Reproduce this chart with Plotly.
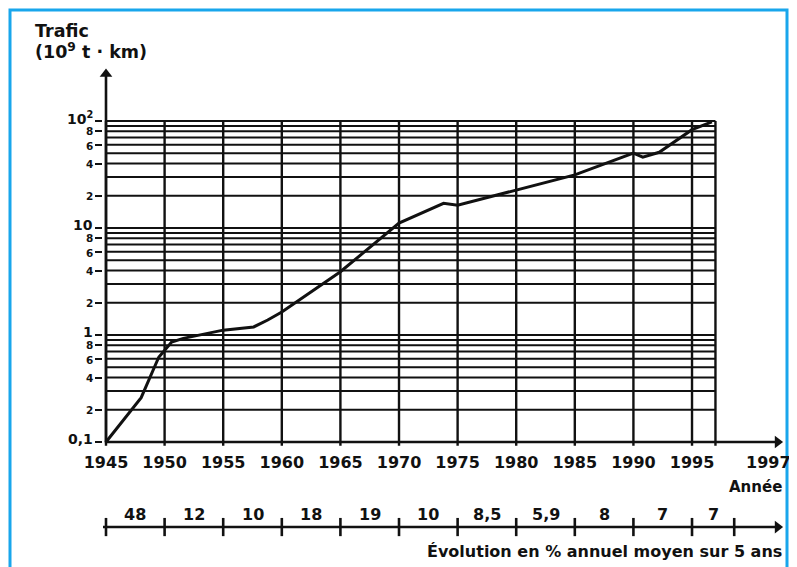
import math
import plotly.graph_objects as go

# ---------------- data ----------------
years = [1945, 1948, 1949.5, 1950, 1950.6, 1951.6, 1953, 1955, 1957.6, 1958.8, 1960,
         1965, 1970, 1973.8, 1975, 1980, 1985, 1990, 1990.8, 1992.2, 1995, 1996.7]
traffic = [0.1, 0.26, 0.62, 0.72, 0.86, 0.93, 1.0, 1.11, 1.19, 1.38, 1.64,
           3.9, 11.1, 17.0, 16.3, 22.7, 31.4, 50.0, 46.0, 51.0, 83.0, 98.0]

x_tick_years = [1945, 1950, 1955, 1960, 1965, 1970, 1975, 1980, 1985, 1990, 1995]
x_tick_labels = [str(y) for y in x_tick_years]

y_tick_values = [0.1, 0.2, 0.4, 0.6, 0.8, 1, 2, 4, 6, 8, 10, 20, 40, 60, 80, 100]
y_tick_labels = ["0,1", "2", "4", "6", "8", "1", "2", "4", "6", "8",
                 "10", "2", "4", "6", "8", "10<sup>2</sup>"]
y_major_labels = {"0,1", "1", "10", "10<sup>2</sup>"}

grid_years = [1945, 1950, 1955, 1960, 1965, 1970, 1975, 1980, 1985, 1990, 1995, 1997]
grid_values = [m * 10 ** k for k in (-1, 0, 1) for m in range(1, 10)] + [100]

evo_bounds = [1945, 1950, 1955, 1960, 1965, 1970, 1975, 1980, 1985, 1990, 1995, 1998.6]
evo_labels = ["48", "12", "10", "18", "19", "10", "8,5", "5,9", "8", "7", "7"]

# ---------------- layout geometry ----------------
# the page body has an 8px margin, so the figure is drawn 8px smaller
OFF = 8
W, H = 797 - OFF, 567 - OFF
ML, MR, MT, MB = 103 - OFF, 7, 66 - OFF, 22
X_RANGE = [1944.744, 2003.36]
Y_RANGE = [-1.0467, 2.514]
MAIN_DOMAIN = [0.2046, 1.0]
EVO_DOMAIN = [0.0, 0.15]
INK = "#111111"
FONT = "DejaVu Sans"

def px_x(px):
    """reference-image x pixel -> paper coordinate"""
    return (px - OFF - ML) / (W - ML - MR)

def px_y(py):
    """reference-image y pixel -> paper coordinate"""
    return (H - MB - (py - OFF)) / (H - MT - MB)

fig = go.Figure()

# grid: vertical lines
gx, gy = [], []
for g in grid_years:
    gx += [g, g, None]
    gy += [0.092, 100, None]
fig.add_trace(go.Scatter(x=gx, y=gy, mode="lines", line=dict(color=INK, width=2.4),
                         hoverinfo="skip", showlegend=False))
# grid: horizontal lines
hx, hy = [], []
for v in grid_values:
    hx += [grid_years[0], grid_years[-1], None]
    hy += [v, v, None]
fig.add_trace(go.Scatter(x=hx, y=hy, mode="lines", line=dict(color=INK, width=2),
                         hoverinfo="skip", showlegend=False))

# axes with arrows
fig.add_trace(go.Scatter(x=[1945, 1945], y=[0.1, 10 ** 2.44], mode="lines",
                         line=dict(color=INK, width=2.6), hoverinfo="skip", showlegend=False))
fig.add_trace(go.Scatter(x=[1945], y=[10 ** 2.44], mode="markers", cliponaxis=False,
                         marker=dict(symbol="triangle-up", size=11, color=INK),
                         hoverinfo="skip", showlegend=False))
fig.add_trace(go.Scatter(x=[1944.9, 2002.3], y=[0.1, 0.1], mode="lines",
                         line=dict(color=INK, width=2.6), hoverinfo="skip", showlegend=False))
fig.add_trace(go.Scatter(x=[2002.3], y=[0.1], mode="markers", cliponaxis=False,
                         marker=dict(symbol="triangle-right", size=11, color=INK),
                         hoverinfo="skip", showlegend=False))

# data curve
fig.add_trace(go.Scatter(x=years, y=traffic, mode="lines",
                         line=dict(color=INK, width=3), showlegend=False))

# evolution row (second subplot sharing the year scale)
EV_Y = 0.25
fig.add_trace(go.Scatter(x=[1943.9, 2002.3], y=[EV_Y, EV_Y], mode="lines",
                         line=dict(color=INK, width=2.6), xaxis="x2", yaxis="y2",
                         hoverinfo="skip", showlegend=False))
fig.add_trace(go.Scatter(x=evo_bounds, y=[EV_Y] * len(evo_bounds), mode="markers",
                         marker=dict(symbol="line-ns", size=13, line=dict(color=INK, width=2.6)),
                         xaxis="x2", yaxis="y2", cliponaxis=False,
                         hoverinfo="skip", showlegend=False))
fig.add_trace(go.Scatter(x=[2002.3], y=[EV_Y], mode="markers", cliponaxis=False,
                         marker=dict(symbol="triangle-right", size=11, color=INK),
                         xaxis="x2", yaxis="y2", hoverinfo="skip", showlegend=False))

bold = dict(family=FONT, color=INK, weight="bold")
annotations = []
for i, lab in enumerate(evo_labels):
    mid = (evo_bounds[i] + evo_bounds[i + 1]) / 2
    annotations.append(dict(x=mid, y=0.42, xref="x2", yref="y2", text=lab, showarrow=False,
                            font=dict(size=16, **bold), xanchor="center", yanchor="middle"))

# y tick labels (annotations so crowded labels can be nudged apart)
for val, lab in zip(y_tick_values, y_tick_labels):
    major = lab in y_major_labels
    shift = 3 if major else (-1 if lab == "6" else 0)
    annotations.append(dict(x=px_x(94), y=math.log10(val), xref="paper", yref="y",
                            text=lab, showarrow=False, xanchor="right", yanchor="middle",
                            yshift=shift, borderpad=0,
                            font=dict(size=14 if major else 10.5, **bold)))

annotations += [
    dict(x=px_x(33), y=px_y(31), xref="paper", yref="paper", text="Trafic", showarrow=False,
         xanchor="left", yanchor="middle", font=dict(size=17.5, **bold)),
    dict(x=px_x(33), y=px_y(51), xref="paper", yref="paper", text="(10<sup>9</sup> t · km)",
         showarrow=False, xanchor="left", yanchor="middle", font=dict(size=17.5, **bold)),
    dict(x=px_x(768), y=px_y(462), xref="paper", yref="paper", text="1997", showarrow=False,
         xanchor="center", yanchor="middle", font=dict(size=16, **bold)),
    dict(x=px_x(784), y=px_y(487), xref="paper", yref="paper", text="Année", showarrow=False,
         xanchor="right", yanchor="middle", font=dict(size=15, **bold)),
    dict(x=px_x(784), y=px_y(551), xref="paper", yref="paper",
         text="Évolution en % annuel moyen sur 5 ans", showarrow=False,
         xanchor="right", yanchor="middle", font=dict(size=16, **bold)),
]

fig.update_layout(
    width=W, height=H, autosize=False,
    margin=dict(l=ML, r=MR, t=MT, b=MB),
    paper_bgcolor="white", plot_bgcolor="white",
    showlegend=False,
    xaxis=dict(range=X_RANGE, domain=[0, 1], anchor="y", showgrid=False, zeroline=False,
               showline=False, tickmode="array", tickvals=x_tick_years, ticktext=x_tick_labels,
               ticks="", tickfont=dict(size=16, **bold), ticklabelstandoff=4),
    yaxis=dict(type="log", range=Y_RANGE, domain=MAIN_DOMAIN, anchor="x", showgrid=False,
               zeroline=False, showline=False, tickmode="array", tickvals=y_tick_values,
               showticklabels=False, ticks="outside", ticklen=7, tickwidth=2, tickcolor=INK),
    xaxis2=dict(matches="x", anchor="y2", visible=False),
    yaxis2=dict(range=[0, 1], domain=EVO_DOMAIN, anchor="x2", visible=False),
    annotations=annotations,
    shapes=[dict(type="rect", xref="paper", yref="paper",
                 x0=px_x(10), x1=px_x(787), y0=px_y(585), y1=px_y(10),
                 line=dict(color="#19a6ec", width=3), fillcolor="rgba(0,0,0,0)", layer="below")],
)

fig.write_html("out.html")
